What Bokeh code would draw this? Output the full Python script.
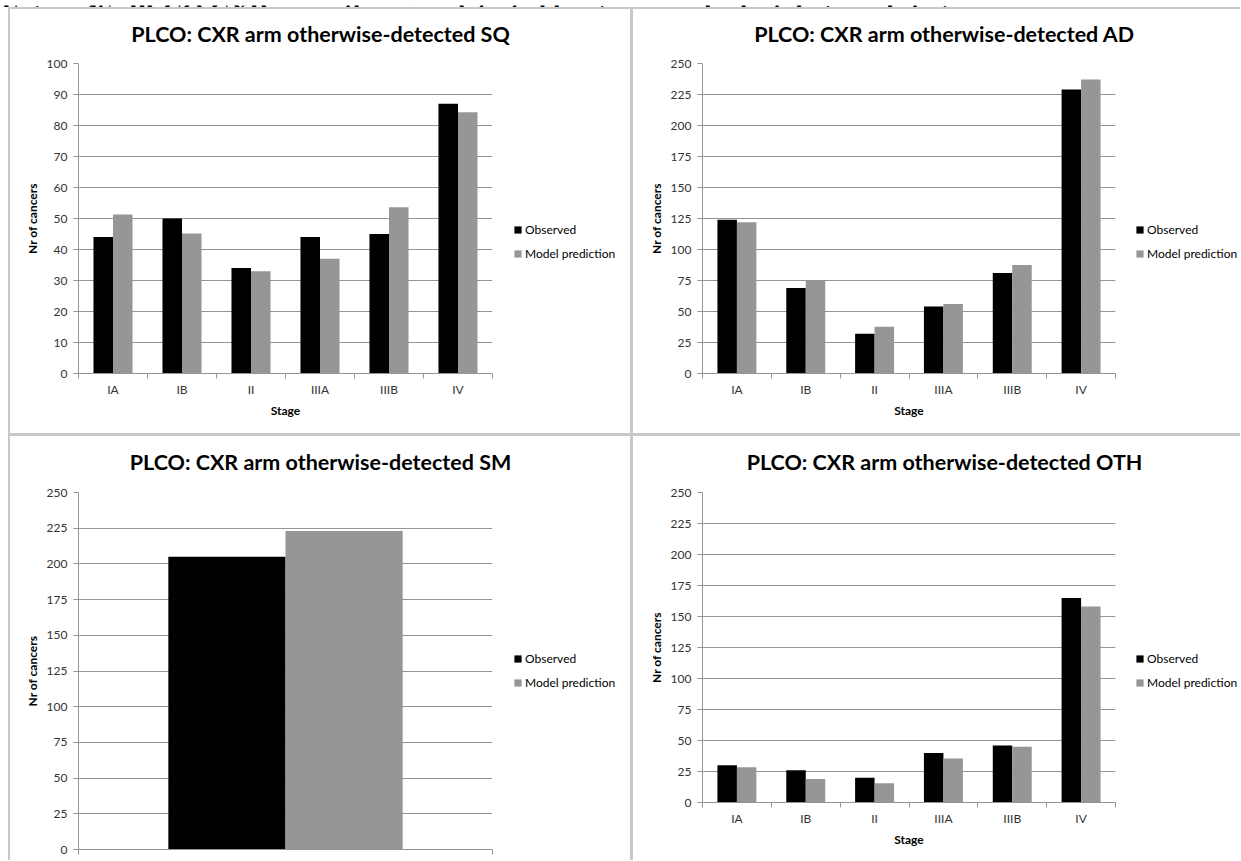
from bokeh.plotting import figure
from bokeh.models import (Range1d, FixedTicker, Legend, LegendItem, ColumnDataSource,
                          Spacer, Row, Column, Label)
from bokeh.transform import dodge
from bokeh.embed import file_html
from bokeh.resources import INLINE

# ---------------- data ----------------
stages = ["IA", "IB", "II", "IIIA", "IIIB", "IV"]

sq_observed = [44, 50, 34, 44, 45, 87]
sq_predicted = [51.3, 45.2, 33, 37, 53.6, 84.3]

ad_observed = [124, 69, 32, 54, 81, 229]
ad_predicted = [122, 75, 37.7, 56, 87.5, 237]

sm_stages = ["All"]
sm_observed = [205]
sm_predicted = [223]

oth_observed = [30, 26, 20, 40, 46, 165]
oth_predicted = [28.5, 19, 15.6, 35.5, 45, 158]

series_labels = ["Observed", "Model prediction"]
titles = ["PLCO: CXR arm otherwise-detected SQ",
          "PLCO: CXR arm otherwise-detected AD",
          "PLCO: CXR arm otherwise-detected SM",
          "PLCO: CXR arm otherwise-detected OTH"]
header = "Figure 4S: PLCO CXR arm otherwise-detected lung cancers by histology and stage"

# ---------------- style ----------------
FONT = "Lato"
GRID = "#959595"
BORDER = "#c8c8c8"
C_OBS = "#000000"
C_PRED = "#969696"
BAR_W = 0.283


def bare(width, height, xr=(0, 1), yr=(0, 1)):
    f = figure(width=width, height=height, x_range=Range1d(*xr),
               y_range=Range1d(*yr), output_backend="svg",
               toolbar_location=None, tools="", min_border_left=0,
               min_border_right=0, min_border_top=0, min_border_bottom=0)
    f.axis.visible = False
    f.grid.visible = False
    f.outline_line_color = None
    return f


def panel(title, cats, obs, pred, ymax, ystep, pw, ph, title_h, title_y,
          title_x, left, frame_w, frame_h, chart_w, legend_gap, show_x=True):
    n = len(cats)
    src = ColumnDataSource(dict(pos=[i + 0.5 for i in range(n)],
                                observed=obs, predicted=pred))

    # ---- title strip
    tf = bare(pw, title_h)
    tf.add_layout(Label(x=title_x, y=title_y, x_units="screen", y_units="screen",
                        text=title, text_font=FONT, text_font_size="21.5px",
                        text_font_style="bold", text_align="center",
                        text_baseline="middle", text_color="#000000"))

    # ---- chart
    ch = ph - title_h
    top = 8
    p = figure(width=chart_w, height=ch,
               x_range=Range1d(0, n), y_range=Range1d(0, ymax),
               output_backend="svg", toolbar_location=None, tools="",
               min_border_left=left, min_border_top=top,
               min_border_right=chart_w - left - frame_w,
               min_border_bottom=ch - top - frame_h)
    p.outline_line_color = None

    p.vbar(x=dodge("pos", -BAR_W / 2), top="observed", width=BAR_W,
           source=src, fill_color=C_OBS, line_color=None)
    p.vbar(x=dodge("pos", BAR_W / 2), top="predicted", width=BAR_W,
           source=src, fill_color=C_PRED, line_color=None)

    yax = p.yaxis[0]
    yax.ticker = FixedTicker(ticks=list(range(0, ymax + 1, ystep)))
    yax.axis_line_color = GRID
    yax.major_tick_line_color = GRID
    yax.major_tick_out = 5
    yax.major_tick_in = 0
    yax.minor_tick_line_color = None
    yax.major_label_text_font = FONT
    yax.major_label_text_font_size = "12px"
    yax.major_label_text_color = "#333333"
    yax.major_label_standoff = 6
    yax.axis_label = "Nr of cancers"
    yax.axis_label_text_font = FONT
    yax.axis_label_text_font_size = "12px"
    yax.axis_label_text_font_style = "bold"
    yax.axis_label_text_color = "#000000"
    yax.axis_label_standoff = 4

    xax = p.xaxis[0]
    xax.axis_line_color = GRID
    xax.major_tick_line_color = None
    xax.minor_tick_line_color = GRID
    xax.minor_tick_out = 5
    xax.minor_tick_in = 0
    xax.major_tick_out = 0
    xax.major_tick_in = 0
    if show_x:
        xax.ticker = FixedTicker(ticks=[i + 0.5 for i in range(n)],
                                 minor_ticks=list(range(n + 1)))
        xax.major_label_overrides = {i + 0.5: c for i, c in enumerate(cats)}
        xax.major_label_text_font = FONT
        xax.major_label_text_color = "#333333"
        xax.major_label_text_font_size = "12px"
        xax.major_label_standoff = 3
        xax.axis_label = "Stage"
        xax.axis_label_text_font = FONT
        xax.axis_label_text_font_size = "12px"
        xax.axis_label_text_font_style = "bold"
        xax.axis_label_text_color = "#000000"
        xax.axis_label_standoff = 3
    else:
        xax.ticker = FixedTicker(ticks=[], minor_ticks=list(range(n + 1)))
        xax.major_label_standoff = 0

    p.xgrid.visible = False
    p.ygrid.grid_line_color = GRID
    p.ygrid.grid_line_width = 1

    # ---- legend box: the same series lie outside its visible ranges,
    #      so only the legend keys show
    lw = pw - chart_w
    lf = bare(lw, ch - legend_gap, xr=(n + 1, n + 2), yr=(ymax + 1, ymax + 2))
    l1 = lf.vbar(x="pos", top="observed", width=BAR_W, source=src,
                 fill_color=C_OBS, line_color=None)
    l2 = lf.vbar(x="pos", top="predicted", width=BAR_W, source=src,
                 fill_color=C_PRED, line_color=None)
    legend = Legend(items=[LegendItem(label=series_labels[0], renderers=[l1]),
                           LegendItem(label=series_labels[1], renderers=[l2])],
                    location="top_left", orientation="vertical",
                    padding=0, margin=0, border_line_color=None,
                    background_fill_alpha=0, glyph_width=9, glyph_height=9,
                    label_standoff=3, spacing=4, label_height=20,
                    label_text_font=FONT, label_text_font_size="12px",
                    label_text_color="#000000")
    lf.add_layout(legend)

    right = Column(children=[Spacer(width=lw, height=legend_gap), lf], spacing=0)
    return Column(children=[tf, Row(children=[p, right], spacing=0)], spacing=0,
                  styles={"background-color": "white"})


# header strip (the figure caption, cut off at the top edge as in the original)
hdr = bare(1240, 7)
hdr.add_layout(Label(x=1, y=2, x_units="screen", y_units="screen", text=header,
                     text_font="Liberation Serif", text_font_style="bold",
                     text_font_size="27px", text_baseline="alphabetic",
                     text_color="#000000"))

H = 424
# panel(title, cats, obs, pred, ymax, ystep, pw, ph, title_h, title_y, title_x,
#       left, frame_w, frame_h, chart_w, legend_gap)
c1 = panel(titles[0], stages, sq_observed, sq_predicted, 100, 10,
           620, H, 46, 22, 310, 68, 414, 310, 503, 164)
c2 = panel(titles[1], stages, ad_observed, ad_predicted, 250, 25,
           607, H, 46, 22, 311, 69, 413, 310, 502, 164)
c3 = panel(titles[2], sm_stages, sm_observed, sm_predicted, 250, 25,
           620, H, 48, 23, 310, 68, 414, 357, 503, 164, show_x=False)
c4 = panel(titles[3], stages, oth_observed, oth_predicted, 250, 25,
           607, H, 48, 23, 311, 69, 413, 310, 502, 164)

left_col = Column(children=[c1, Spacer(width=620, height=3), c3], spacing=0)
right_col = Column(children=[c2, Spacer(width=607, height=3), c4], spacing=0)
grid = Row(children=[Spacer(width=2, height=851), left_col,
                     Spacer(width=3, height=851), right_col], spacing=0)
boxed = Column(children=[Spacer(width=1232, height=2), grid], spacing=0,
               styles={"background-color": BORDER})
page = Column(children=[hdr, Row(children=[Spacer(width=8, height=853), boxed],
                                 spacing=0)], spacing=0)

open("out.html", "w").write(file_html(page, INLINE))
